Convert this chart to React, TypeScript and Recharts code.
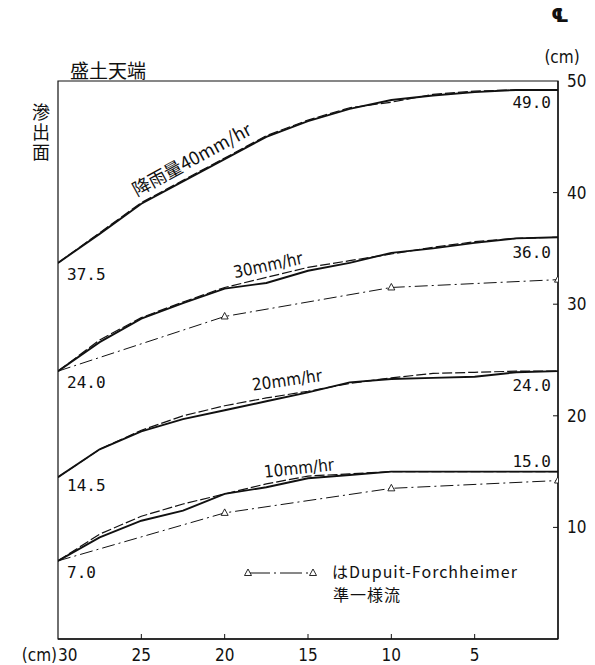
import React from "react";
import { LineChart, Line, XAxis, YAxis, ReferenceArea } from "recharts";

// ---- data ----
const xTicks = [30, 25, 20, 15, 10, 5];
const yTicks = [10, 20, 30, 40, 50];

const xs = [30, 27.5, 25, 22.5, 20, 17.5, 15, 12.5, 10, 7.5, 5, 2.5, 0];

const r40Solid = [33.7, 36.3, 39.0, 41.0, 43.0, 45.0, 46.4, 47.5, 48.3, 48.7, 49.0, 49.2, 49.2];
const r40Dash = [33.7, 36.4, 39.1, 41.1, 43.1, 45.1, 46.5, 47.6, 48.1, 48.8, 49.1, 49.2, 49.2];
const r30Solid = [24.0, 26.6, 28.7, 30.1, 31.4, 31.9, 33.0, 33.7, 34.6, 35.0, 35.5, 35.9, 36.0];
const r30Dash = [24.0, 26.8, 28.8, 30.2, 31.5, 32.4, 33.3, 33.9, 34.5, 35.1, 35.6, 35.9, 36.0];
const r20Solid = [14.5, 17.0, 18.6, 19.7, 20.5, 21.3, 22.1, 23.0, 23.3, 23.4, 23.5, 23.9, 24.0];
const r20Dash = [14.5, 17.0, 18.7, 20.0, 20.9, 21.6, 22.2, 22.9, 23.4, 23.8, 23.9, 24.0, 24.0];
const r10Solid = [7.0, 9.1, 10.6, 11.5, 13.0, 13.6, 14.4, 14.7, 15.0, 15.0, 15.0, 15.0, 15.0];
const r10Dash = [7.0, 9.4, 11.0, 12.1, 13.0, 13.9, 14.6, 14.8, 15.0, 15.0, 15.0, 15.0, 15.0];

const dupuitXs = [30, 20, 10, 0];
const dupuit30 = [24.0, 28.9, 31.5, 32.2];
const dupuit10 = [7.0, 11.3, 13.5, 14.2];

const startLabels = ["37.5", "24.0", "14.5", "7.0"];
const endLabels = ["49.0", "36.0", "24.0", "15.0"];
const curveLabels = ["降雨量40mm/hr", "30mm/hr", "20mm/hr", "10mm/hr"];

const toPts = (x: number[], y: number[]) => x.map((v, i) => ({ x: v, y: y[i] }));

const NUM_FONT = "'DejaVu Sans Condensed', 'Liberation Sans', sans-serif";
const MONO_FONT = "'DejaVu Sans Mono', 'Liberation Mono', monospace";
const JP_FONT = "'Noto Sans CJK JP', 'Noto Sans', sans-serif";

const startDy = [17, 17, 14, 17];
const endDy = [18, 21, 20, -5];

const makeLabel = (k: number) => (p: any) => {
  const { x, y, index } = p;
  if (index === 0) {
    return (
      <text key={`s${k}`} x={x + 9} y={y + startDy[k]} fontFamily={MONO_FONT} fontSize={16} fill="#111">
        {startLabels[k]}
      </text>
    );
  }
  if (index === xs.length - 1) {
    return (
      <text key={`e${k}`} x={x - 7} y={y + endDy[k]} textAnchor="end" fontFamily={MONO_FONT} fontSize={16} fill="#111">
        {endLabels[k]}
      </text>
    );
  }
  return <g key={`n${k}-${index}`} />;
};

const Tri = ({ cx, cy, s = 1 }: { cx: number; cy: number; s?: number }) => (
  <polygon
    points={`${cx},${cy - 4 * s} ${cx - 3.5 * s},${cy + 2.5 * s} ${cx + 3.5 * s},${cy + 2.5 * s}`}
    fill="#fff"
    stroke="#111"
    strokeWidth={0.9}
  />
);

const triDot = (p: any) => {
  const { cx, cy, index } = p;
  if (index === 0 || cx == null) return <g key={`t${index}`} />;
  return <Tri key={`t${index}`} cx={cx} cy={cy} />;
};

const XTick = (p: any) => {
  const { x, y, payload } = p;
  const v = payload.value;
  if (v === 30) {
    return (
      <g>
        <text x={x} y={y + 22} fontFamily={NUM_FONT} fontSize={17} fill="#111">30</text>
        <text x={x - 1} y={y + 22} textAnchor="end" fontFamily={NUM_FONT} fontSize={17} fill="#111">(cm)</text>
      </g>
    );
  }
  return (
    <g>
      <line x1={x} y1={y} x2={x} y2={y - 5} stroke="#111" strokeWidth={1} />
      <text x={x} y={y + 22} textAnchor="middle" fontFamily={NUM_FONT} fontSize={17} fill="#111">{v}</text>
    </g>
  );
};

const YTick = (p: any) => {
  const { x, y, payload } = p;
  const v = payload.value;
  return (
    <g>
      {v !== 50 && <line x1={x - 5} y1={y} x2={x} y2={y} stroke="#111" strokeWidth={1} />}
      <text x={x + 9} y={y + 6} fontFamily={NUM_FONT} fontSize={17} fill="#111">{v}</text>
    </g>
  );
};

const solidProps = { stroke: "#111", strokeWidth: 1.9, dot: false, isAnimationActive: false, type: "linear" as const };
const dashProps = { stroke: "#111", strokeWidth: 1.2, strokeDasharray: "10 3", dot: false, isAnimationActive: false, type: "linear" as const };
const dupuitProps = { stroke: "#111", strokeWidth: 1, strokeDasharray: "13 4 2 4", isAnimationActive: false, type: "linear" as const };

const solids = [r40Solid, r30Solid, r20Solid, r10Solid];
const dashes = [r40Dash, r30Dash, r20Dash, r10Dash];

export default function App() {
  const W = 579;
  const H = 657;
  return (
    <div style={{ position: "relative", width: W, height: H }}>
      <LineChart width={W} height={H} margin={{ top: 73, left: 50, right: 0, bottom: 0 }}>
        <XAxis
          dataKey="x"
          type="number"
          domain={[0, 30]}
          reversed
          ticks={xTicks}
          tick={<XTick />}
          tickLine={false}
          tickSize={0}
          tickMargin={0}
          height={26}
          axisLine={{ stroke: "#111", strokeWidth: 1.3 }}
          allowDataOverflow
          interval={0}
        />
        <YAxis
          orientation="right"
          type="number"
          domain={[0, 50]}
          ticks={yTicks}
          tick={<YTick />}
          tickLine={false}
          tickSize={0}
          tickMargin={0}
          width={29}
          axisLine={{ stroke: "#111", strokeWidth: 1.3 }}
          allowDataOverflow
          interval={0}
        />
        <ReferenceArea x1={30} x2={0} y1={0} y2={50} fill="none" stroke="#111" strokeWidth={1.2} ifOverflow="visible" />
        {dashes.map((d, k) => (
          <Line key={`d${k}`} data={toPts(xs, d)} dataKey="y" {...dashProps} />
        ))}
        {solids.map((d, k) => (
          <Line key={`s${k}`} data={toPts(xs, d)} dataKey="y" {...solidProps} label={makeLabel(k)} />
        ))}
        <Line data={toPts(dupuitXs, dupuit30)} dataKey="y" {...dupuitProps} dot={triDot} />
        <Line data={toPts(dupuitXs, dupuit10)} dataKey="y" {...dupuitProps} dot={triDot} />
      </LineChart>
      <svg
        width={W}
        height={H}
        style={{ position: "absolute", left: 0, top: 0, pointerEvents: "none", overflow: "visible" }}
      >
        <text x={552} y={14} textAnchor="middle" fontFamily="'DejaVu Sans', sans-serif" fontSize={20} fontWeight="bold" fill="#111">℄</text>
        <text x={554} y={55} textAnchor="middle" fontFamily={NUM_FONT} fontSize={17} fill="#111">(cm)</text>
        <text x={62} y={70} fontFamily={JP_FONT} fontSize={19} fill="#111">盛土天端</text>
        <text
          x={33}
          y={95}
          fontFamily={JP_FONT}
          fontSize={18}
          fill="#111"
          style={{ writingMode: "vertical-rl", letterSpacing: "2px" } as any}
        >
          滲出面
        </text>
        <text x={184} y={158} textAnchor="middle" transform="rotate(-28.5 184 152)" fontFamily={JP_FONT} fontSize={18} fill="#111">{curveLabels[0]}</text>
        <text x={260} y={263} textAnchor="middle" transform="rotate(-12 260 257)" fontFamily={NUM_FONT} fontSize={17} fill="#111">{curveLabels[1]}</text>
        <text x={279} y={378} textAnchor="middle" transform="rotate(-8 279 372)" fontFamily={NUM_FONT} fontSize={17} fill="#111">{curveLabels[2]}</text>
        <text x={291} y={466} textAnchor="middle" transform="rotate(-6 291 460)" fontFamily={NUM_FONT} fontSize={17} fill="#111">{curveLabels[3]}</text>
        {/* legend */}
        <line x1={240} y1={565} x2={305} y2={565} stroke="#111" strokeWidth={1} strokeDasharray="22 4 2 4" />
        <Tri cx={240} cy={565} />
        <Tri cx={305} cy={565} />
        <text x={324} y={570} fontFamily={JP_FONT} fontSize={16} letterSpacing={1} fill="#111">はDupuit-Forchheimer</text>
        <text x={325} y={593} fontFamily={JP_FONT} fontSize={16} letterSpacing={1} fill="#111">準一様流</text>
      </svg>
    </div>
  );
}
